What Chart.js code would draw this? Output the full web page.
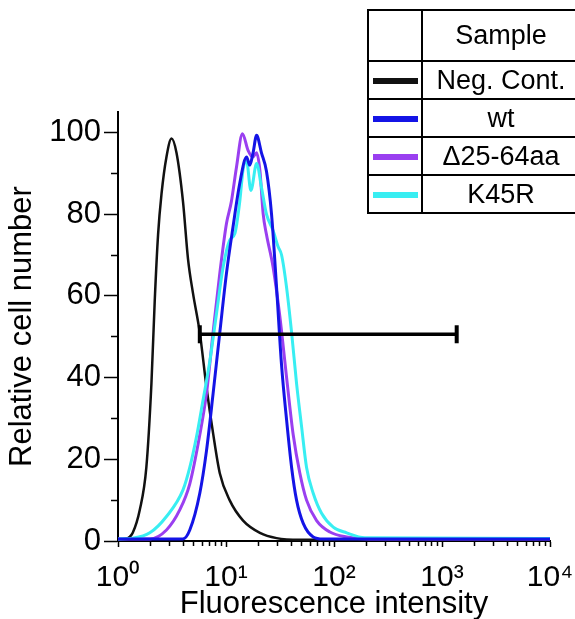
<!DOCTYPE html>
<html>
<head>
<meta charset="utf-8">
<script src="https://cdn.jsdelivr.net/npm/chart.js@4.4.1/dist/chart.umd.min.js"></script>
<style>
  body { margin: 0; width: 575px; height: 619px; overflow: hidden; background: #fff; position: relative;
         font-family: "Liberation Sans", Arial, sans-serif; }
  #histChart { position: absolute; left: 0; top: 0; }
  table.key { position: absolute; left: 367px; top: 9px; width: 214px; border-collapse: collapse; table-layout: fixed; }
  table.key td { border: 2px solid #000; padding: 0; text-align: center; font-size: 27px; color: #000; white-space: nowrap; }
  table.key tr { height: 38px; }
  table.key tr.head { height: 51px; }
  table.key td.sw { width: 52px; }
  .swatch { display: inline-block; width: 45px; height: 6px; vertical-align: middle; }
</style>
</head>
<body>
<canvas id="histChart" width="575" height="619"></canvas>
<table class="key">
  <tr class="head"><td class="sw"></td><td>Sample</td></tr>
  <tr><td class="sw"><span class="swatch" style="background:#111"></span></td><td>Neg. Cont.</td></tr>
  <tr><td class="sw"><span class="swatch" style="background:#1414e6"></span></td><td>wt</td></tr>
  <tr><td class="sw"><span class="swatch" style="background:#9a3ff0"></span></td><td>&Delta;25-64aa</td></tr>
  <tr><td class="sw"><span class="swatch" style="background:#38eef2"></span></td><td>K45R</td></tr>
</table>
<script>
// fluorescence intensity (x) and relative cell number (y)
const negX = [1, 1.15, 1.28, 1.37, 1.59, 1.83, 2.04, 2.19, 2.35, 2.53, 2.81, 3.13, 3.48, 4.0, 4.45, 4.95, 5.72, 6.59, 7.59, 8.76, 10.8, 14.4, 20.6, 29.4, 48.3, 10000];
const negY = [0.3, 0.5, 1, 2, 7.6, 18, 38.6, 59, 75, 85, 94, 98.5, 95, 83, 69, 60.6, 51, 37.7, 26.4, 16.6, 10, 5, 2, 0.7, 0.3, 0.3];

const wtX = [1, 3.98, 4.62, 5.72, 6.59, 7.59, 8.76, 10.1, 11.6, 13.4, 15.5, 16.6, 17.8, 19.2, 21.3, 23.7, 26.4, 29.4, 32.7, 36.4, 40.5, 45.0, 51.9, 64.2, 78.9, 10000];
const wtY = [0.5, 0.5, 2.7, 11.7, 22, 36, 51, 65.5, 76.8, 87.5, 94, 92, 95, 99.3, 95, 90.5, 80, 62, 43, 29.6, 18, 10, 4.3, 1, 0.5, 0.5];

const delX = [1, 1.97, 2.81, 3.73, 4.62, 5.72, 6.59, 7.59, 8.76, 10.1, 11.2, 12.5, 14.2, 16.0, 17.7, 19.2, 20.6, 22.1, 23.7, 27.3, 31.5, 36.4, 41.9, 48.3, 55.7, 69.0, 91.6, 131, 215, 10000];
const delY = [0.5, 0.5, 2.7, 7.6, 14, 26, 36, 51, 65.5, 77.7, 83, 91.5, 99.7, 95.6, 94, 95, 90.7, 80, 75, 67, 55, 40, 26, 16.6, 10, 5, 2.2, 1, 0.5, 0.5];

const k45X = [1, 1.37, 1.97, 2.81, 4.0, 4.62, 5.33, 6.13, 7.08, 8.17, 9.4, 10.8, 12.1, 13.4, 14.4, 15.5, 17.0, 19.2, 21.3, 23.7, 27.3, 30.4, 32.7, 36.4, 40.5, 45.0, 50.1, 55.7, 64.2, 76.7, 98.4, 131, 193, 10000];
const k45Y = [0.5, 0.7, 2, 6, 12.5, 18, 25.5, 34.5, 44, 55.7, 67, 73.6, 75.3, 83, 91, 93, 85.8, 92.4, 86.6, 80, 76, 72, 70, 62, 51, 38.6, 28, 18, 11.7, 6.8, 3.4, 2, 0.8, 0.6];

// gate marker
const gateX = [5.72, 1368];
const gateY = [50.6, 50.6];

const xMajor = [1, 10, 100, 1000, 10000];
const xTickLabels = ['10⁰', '10¹', '10²', '10³', '10⁴'];

const pts = (xs, ys) => xs.map((x, i) => ({ x: x, y: ys[i] }));

let xTicks = [];
xMajor.forEach((d, i) => {
    xTicks.push(d);
    if (i < xMajor.length - 1) {
        for (let m = 2; m <= 9; m++) xTicks.push(d * m);
    }
});

const curve = (data, color, width, order) => ({
    data: data,
    borderColor: color,
    borderWidth: width,
    pointRadius: 0,
    fill: false,
    cubicInterpolationMode: 'monotone',
    order: order,
});

new Chart(document.getElementById('histChart'), {
    type: 'line',
    data: {
        datasets: [
            curve(pts(negX, negY), '#111111', 2.5, 5),
            curve(pts(delX, delY), '#9a3ff0', 3, 4),
            curve(pts(k45X, k45Y), '#38eef2', 3, 3),
            curve(pts(wtX, wtY), '#1414e6', 3, 2),
            {
                data: pts(gateX, gateY),
                borderColor: '#000',
                borderWidth: 3.5,
                pointStyle: 'line',
                pointRotation: 90,
                pointRadius: 9,
                pointBorderWidth: 4,
                pointBorderColor: '#000',
                fill: false,
                order: 0,
            },
        ]
    },
    options: {
        responsive: false,
        animation: false,
        layout: { padding: { top: 112, right: 0, bottom: 0, left: 0 } },
        plugins: { legend: { display: false }, tooltip: { enabled: false } },
        scales: {
            x: {
                type: 'logarithmic',
                min: 1,
                max: 10000,
                afterBuildTicks: s => { s.ticks = xTicks.map(v => ({ value: v })); },
                afterFit: s => { s.height = 78; s.paddingRight = 25; s.paddingLeft = 0; },
                ticks: {
                    autoSkip: false,
                    maxRotation: 0,
                    color: '#000',
                    padding: 13,
                    font: { family: 'Liberation Sans', size: 30 },
                    callback: v => { const i = xMajor.indexOf(v); return i >= 0 ? xTickLabels[i] : ''; },
                },
                grid: {
                    drawOnChartArea: false, color: '#000', tickLength: 6, tickWidth: 1.5,
                    tickBorderDash: c => xMajor.includes(c.tick && c.tick.value) ? [] : [4, 100],
                },
                border: { color: '#000', width: 2 },
                title: { display: true, text: 'Fluorescence intensity', color: '#000',
                         font: { family: 'Liberation Sans', size: 31 }, padding: { top: 0, bottom: -4 } },
            },
            y: {
                min: 0,
                max: 105,
                afterFit: s => { s.width = 118; },
                ticks: {
                    stepSize: 5,
                    color: '#000',
                    padding: 3,
                    font: { family: 'Liberation Sans', size: 31 },
                    callback: v => (v % 20 === 0 && v <= 100) ? v : '',
                },
                grid: {
                    drawOnChartArea: false, color: '#000', tickLength: 14, tickWidth: 1.5,
                    tickBorderDash: c => (c.tick && c.tick.value % 20 === 0) ? [] : [0, 7, 7, 100],
                },
                border: { color: '#000', width: 2 },
                title: { display: true, text: 'Relative cell number', color: '#000',
                         font: { family: 'Liberation Sans', size: 31 }, padding: { top: 4, bottom: 0 } },
            },
        }
    }
});
</script>
</body>
</html>
